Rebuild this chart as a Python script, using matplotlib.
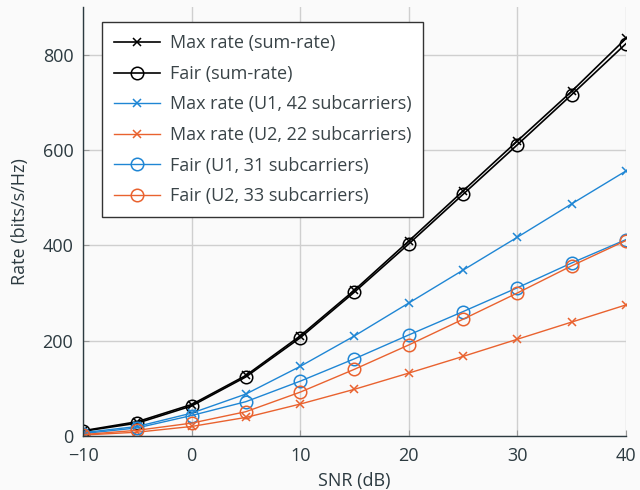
import numpy as np
import matplotlib
matplotlib.use('Agg')
import matplotlib.pyplot as plt

# SNR in dB
snr = [-10, -5, 0, 5, 10, 15, 20, 25, 30, 35, 40]

# rates in bits/s/Hz
max_sum = [11, 30, 66, 127, 210, 306, 409, 514, 619, 723, 834]
fair_sum = [10, 27, 63, 124, 206, 302, 403, 507, 611, 716, 823]
max_u1 = [7, 20, 48, 88, 146, 210, 279, 348, 417, 487, 556]
max_u2 = [2, 8, 20, 39, 67, 98, 132, 167, 203, 239, 275]
fair_u1 = [5, 17, 43, 72, 115, 162, 212, 261, 311, 363, 412]
fair_u2 = [3, 12, 27, 51, 92, 140, 191, 245, 300, 357, 410]

blue = '#1f86d4'
orange = '#e9622f'
ink = '#2c3a40'

plt.rcParams['font.family'] = ['Open Sans', 'DejaVu Sans']
plt.rcParams['axes.unicode_minus'] = True

fig = plt.figure(figsize=(6.4, 4.9), dpi=100, facecolor='#fafafa')
ax = fig.add_axes([0.1297, 0.1102, 0.8483, 0.8755])
ax.set_facecolor('#fafafa')

ax.plot(snr, max_sum, color='black', lw=1.2, marker='x', ms=6, mew=1.1,
        label='Max rate (sum-rate)')
ax.plot(snr, fair_sum, color='black', lw=1.2, marker='o', ms=9, mfc='none', mew=1.1,
        label='Fair (sum-rate)')
ax.plot(snr, max_u1, color=blue, lw=1.0, marker='x', ms=6, mew=1.1,
        label='Max rate (U1, 42 subcarriers)')
ax.plot(snr, max_u2, color=orange, lw=1.0, marker='x', ms=6, mew=1.1,
        label='Max rate (U2, 22 subcarriers)')
ax.plot(snr, fair_u1, color=blue, lw=1.0, marker='o', ms=9, mfc='none', mew=1.1,
        label='Fair (U1, 31 subcarriers)')
ax.plot(snr, fair_u2, color=orange, lw=1.0, marker='o', ms=9, mfc='none', mew=1.1,
        label='Fair (U2, 33 subcarriers)')

ax.set_xlim(-10, 40)
ax.set_ylim(0, 900)
ax.set_xticks([-10, 0, 10, 20, 30, 40])
ax.set_yticks([0, 200, 400, 600, 800])
ax.grid(True, color='#cfcfcf', lw=1.0)
ax.set_axisbelow(True)

for s in ['top', 'right']:
    ax.spines[s].set_visible(False)
for s in ['left', 'bottom']:
    ax.spines[s].set_color(ink)
    ax.spines[s].set_linewidth(1.0)
ax.tick_params(direction='in', length=4, color='#9a9a9a', labelsize=13,
               labelcolor=ink)
ax.tick_params(axis='x', pad=8)
ax.tick_params(axis='y', pad=7)

ax.set_xlabel('SNR (dB)', fontsize=13, color=ink, labelpad=5)
ax.set_ylabel('Rate (bits/s/Hz)', fontsize=13, color=ink, labelpad=10)

leg = ax.legend(loc='upper left', bbox_to_anchor=(0.018, 0.985), fontsize=13,
                frameon=True, fancybox=False, edgecolor='#333333',
                facecolor='white', framealpha=1, handlelength=2.6,
                labelspacing=0.7, borderpad=0.65, handletextpad=0.5)
leg.get_frame().set_linewidth(1.0)
for t in leg.get_texts():
    t.set_color('#3a4448')

fig.savefig('out.png', dpi=100, facecolor=fig.get_facecolor())
